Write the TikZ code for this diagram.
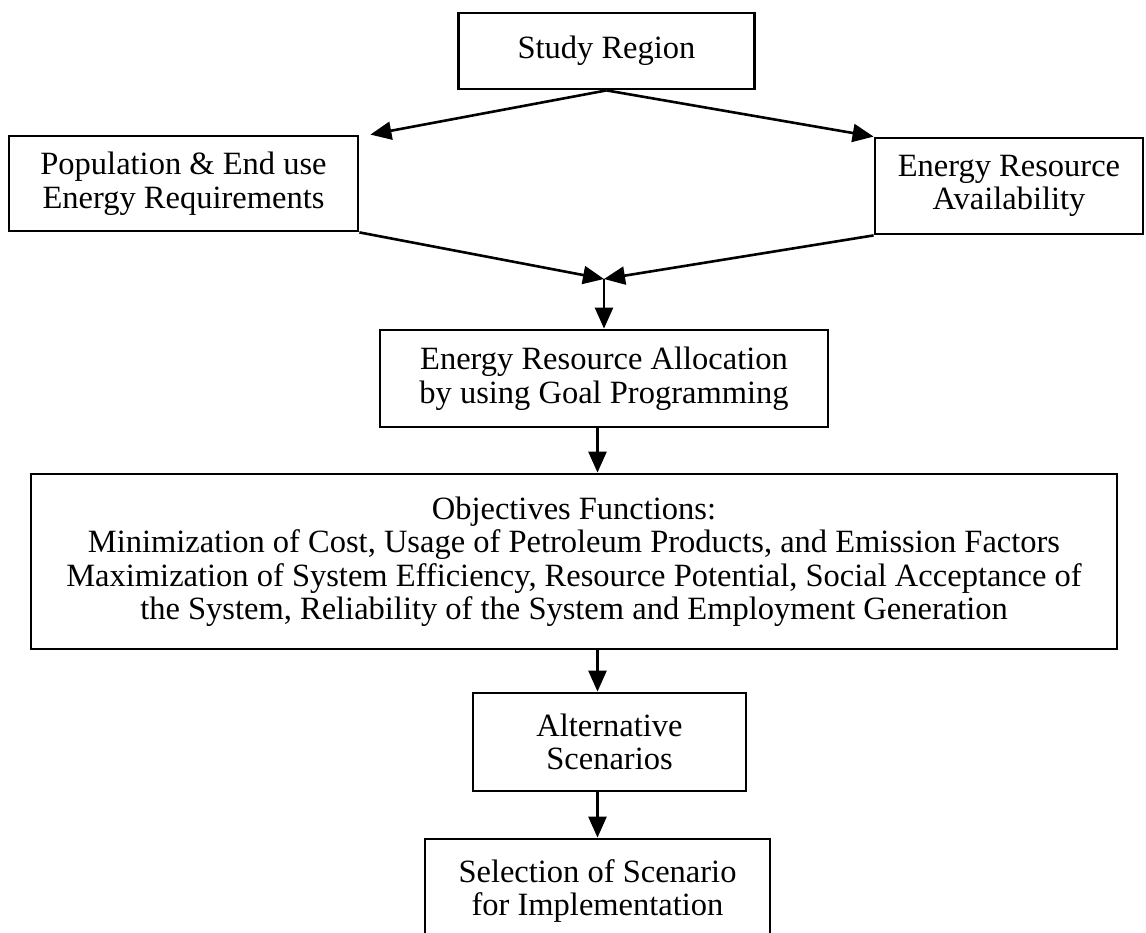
\documentclass[tikz,border=0pt]{standalone}
\usepackage{fontspec}
\setmainfont{Liberation Serif}
\usetikzlibrary{arrows.meta,calc}
\begin{document}
\begin{tikzpicture}[x=1pt,y=-1pt,
  box/.style={draw,line width=2.8pt,rectangle,align=center,inner sep=0pt,
    font=\fontsize{32.5}{33.5}\selectfont},
  flow/.style={line width=2.6pt,-{Triangle[length=21pt,width=18pt]}}]
\useasboundingbox (0,0) rectangle (1146,933);
\begin{scope}
\clip (0,0) rectangle (1146,933);
% process boxes
\node[box,minimum width=296pt,minimum height=76pt] (study) at (606.5,51) {Study Region};
\node[box,minimum width=349pt,minimum height=95pt] (pop) at (183.5,183.5) {Population \& End use\\Energy Requirements};
\node[box,minimum width=268pt,minimum height=96pt] (avail) at (1009,186) {Energy Resource\\Availability};
\node[box,minimum width=448pt,minimum height=97pt] (alloc) at (604,378.5) {Energy Resource Allocation\\by using Goal Programming};
\node[box,minimum width=1086pt,minimum height=175pt] (obj) at (574,561.5) {Objectives Functions:\\Minimization of Cost, Usage of Petroleum Products, and Emission Factors\\Maximization of System Efficiency, Resource Potential, Social Acceptance of\\the System, Reliability of the System and Employment Generation};
\node[box,minimum width=273pt,minimum height=98pt] (alt) at (609.5,742) {Alternative\\Scenarios};
\node[box,minimum width=345pt,minimum height=104pt] (sel) at (597.5,891) {Selection of Scenario\\for Implementation};
\end{scope}
% merge point of the two input flows
\coordinate (j) at (604,279);
% connectors
\draw[flow] (study.south) -- ($(pop.north east)+(11,0)$);
\draw[flow] (study.south) -- (avail.north west);
\draw[flow] (pop.south east) -- (j);
\draw[flow] (avail.south west) -- (j);
\draw[flow] (j) -- (alloc.north);
\draw[flow] (alloc.south -| sel.north) -- (obj.north -| sel.north);
\draw[flow] (obj.south -| sel.north) -- (alt.north -| sel.north);
\draw[flow] (alt.south -| sel.north) -- (sel.north);
\end{tikzpicture}
\end{document}
